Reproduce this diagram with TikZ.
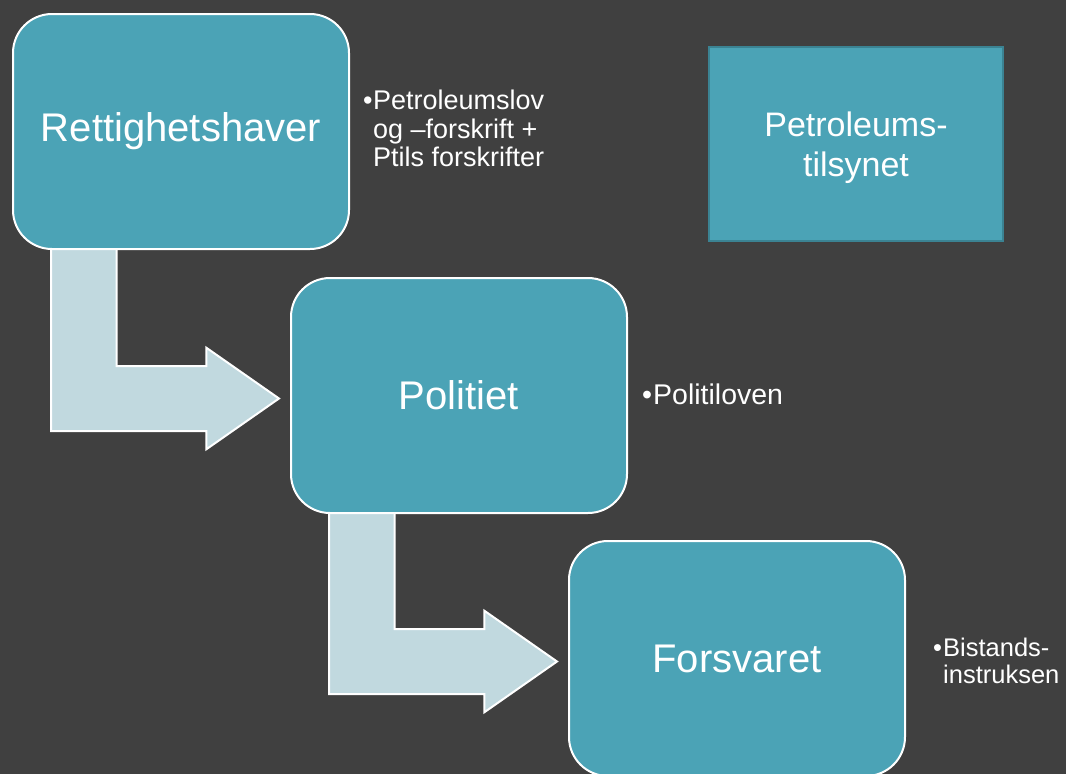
\documentclass[tikz,border=0pt]{standalone}
\usepackage{fontspec}
\setmainfont{Liberation Sans}
\usetikzlibrary{calc}
\pgfdeclarelayer{bottom}
\pgfdeclarelayer{background}
\pgfsetlayers{bottom,background,main}
\definecolor{bgc}{HTML}{404040}
\definecolor{boxteal}{HTML}{4BA3B6}
\definecolor{arrowc}{HTML}{C1D9DF}
\definecolor{ptilborder}{HTML}{3B8393}
\newcommand\bul{\makebox[10pt][l]{•}}
\newcommand\bentarrow[2]{%
  \begin{pgfonlayer}{background}
  \draw[barrow] let \p1=(#1.south west), \p2=(#2.west) in
    (\x1+39pt,\y1+20pt) -- (\x1+39pt,\y2-35.5pt) -- (\x2-83.7pt,\y2-35.5pt)
    -- (\x2-83.7pt,\y2-53.8pt) -- (\x2-11pt,\y2-3pt) -- (\x2-83.7pt,\y2+47.8pt)
    -- (\x2-83.7pt,\y2+29.5pt) -- (\x1+104.6pt,\y2+29.5pt) -- (\x1+104.6pt,\y1+20pt) -- cycle;
  \end{pgfonlayer}}
\begin{document}
\begin{tikzpicture}[x=1pt,y=-1pt,
  rbox/.style={rounded corners=39pt, fill=boxteal, draw=white, line width=2pt,
    minimum width=336pt, minimum height=235pt, inner sep=0pt, text=white,
    font=\fontsize{40}{48}\selectfont},
  ptil/.style={fill=boxteal, draw=ptilborder, line width=2pt,
    minimum width=294pt, minimum height=194pt, inner sep=0pt, text=white,
    align=center, font=\fontsize{34}{40}\selectfont},
  btext/.style={text=white, align=left, inner sep=0pt, anchor=base west,
    font=\fontsize{27}{28.7}\selectfont},
  barrow/.style={fill=arrowc, draw=white, line width=2pt, line join=miter}]
\begin{pgfonlayer}{bottom}
\fill[bgc] (0,0) rectangle (1066,774);
\end{pgfonlayer}
\useasboundingbox (0,0) rectangle (1066,774);
\clip (0,0) rectangle (1066,774);
\node[rbox] (r1) at (181,131.5) {Rettighetshaver};
\node[rbox] (r2) at (459,395.5) {Politiet};
\node[rbox] (r3) at (737,658.5) {Forsvaret};
\bentarrow{r1}{r2}
\bentarrow{r2}{r3}
\node[ptil] (pt) at (856,144) {\rule{0pt}{33pt}Petroleums-\\tilsynet};
\node[btext] (t1) at (363,166.7) {\bul Petroleumslov\\\hspace*{10pt}og –forskrift +\\\hspace*{10pt}Ptils forskrifter};
\node[btext, font=\fontsize{28.5}{30}\selectfont] (t2) at (642,404) {\makebox[11pt][l]{•}Politiloven};
\node[btext, font=\fontsize{25.5}{27}\selectfont] (t3) at (933,683) {\bul Bistands-\\\hspace*{10pt}instruksen};
\end{tikzpicture}
\end{document}
